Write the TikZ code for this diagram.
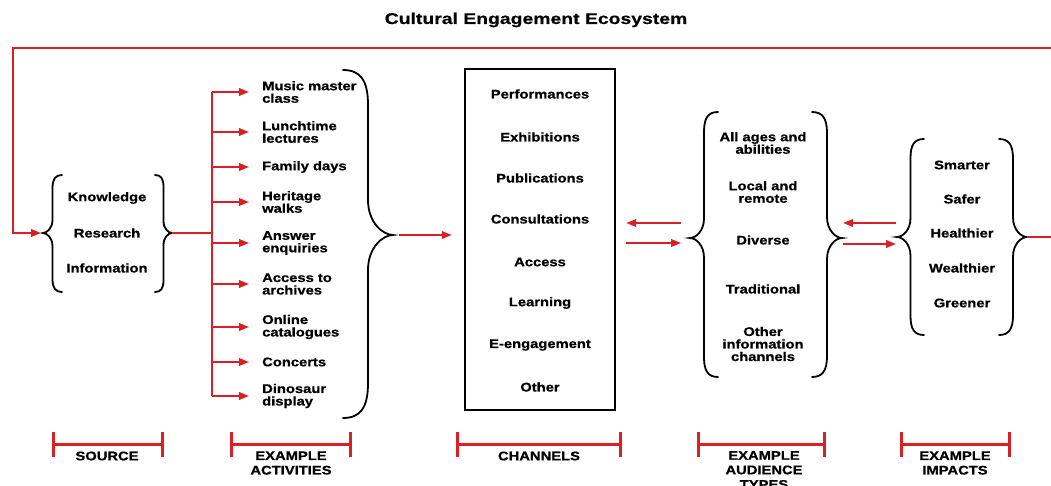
\documentclass[tikz,border=0pt]{standalone}
\usepackage{fontspec}
\setmainfont{Liberation Sans}[FakeStretch=1.18, BoldFeatures={FakeBold=0.7}]
\newfontfamily\headfont{Liberation Sans}[FakeStretch=1.25, BoldFeatures={FakeBold=0.5}]
\usetikzlibrary{arrows.meta}
\definecolor{flowred}{RGB}{218,32,38}

% curly brace: #1 name of tip, #2 tip x, #3 top y, #4 tip y, #5 bottom y,
% #6 +1 for an opening brace, -1 for a closing one, #7 half width
\newcommand{\curly}[7]{%
  \pgfmathsetmacro{\bracew}{(#6)*(#7)}%
  \pgfmathsetmacro{\braceb}{1.4*(#7)}%
  \draw[bracepen] ({#2+2*(\bracew)},#3)
    .. controls ({#2+1.3*(\bracew)},#3) and ({#2+(\bracew)},{#3+0.3*(\braceb)}) .. ({#2+(\bracew)},{#3+(\braceb)})
    -- ({#2+(\bracew)},{#4-(\braceb)})
    .. controls ({#2+(\bracew)},{#4-0.35*(\braceb)}) and ({#2+0.4*(\bracew)},#4) .. (#2,#4)
    .. controls ({#2+0.4*(\bracew)},#4) and ({#2+(\bracew)},{#4+0.35*(\braceb)}) .. ({#2+(\bracew)},{#4+(\braceb)})
    -- ({#2+(\bracew)},{#5-(\braceb)})
    .. controls ({#2+(\bracew)},{#5-0.3*(\braceb)}) and ({#2+1.3*(\bracew)},#5) .. ({#2+2*(\bracew)},#5);
  \coordinate (#1) at (#2,#4);}

\begin{document}
\begin{tikzpicture}[x=1pt,y=-1pt,
  txt/.style={font=\bfseries\fontsize{12.5}{12.5}\selectfont, align=center, inner sep=0pt},
  acttxt/.style={txt, align=left, anchor=west},
  redline/.style={draw=flowred, line width=2pt, line join=miter},
  redarrow/.style={redline, -{Triangle[length=10pt,width=7.5pt]}},
  bracepen/.style={draw=black, line width=1.8pt, line cap=round},
  scalebar/.style={draw=flowred, line width=3pt, {Bar[width=25pt]}-{Bar[width=25pt]}},
  caption/.style={font=\bfseries\fontsize{12.5}{14.5}\selectfont, align=center, inner sep=0pt}]

\fill[white] (0,0) rectangle (1051,486);
\useasboundingbox (0,0) rectangle (1051,486);

% title
\node[font=\headfont\bfseries\fontsize{15.5}{15.5}\selectfont, inner sep=0pt] (title) at (536,20) {Cultural Engagement Ecosystem};

% source
\curly{srcL}{43}{175}{233}{292}{1}{9.5}
\curly{srcR}{172}{175}{233}{292}{-1}{8.5}
\node[txt] (s1) at (107,198) {Knowledge};
\node[txt] (s2) at (107,233) {Research};
\node[txt] (s3) at (107,268) {Information};

% example activities
\coordinate (trunk) at (212,233);
\node[acttxt] (a1) at (262,92)  {Music master\\class};
\node[acttxt] (a2) at (262,132) {Lunchtime\\lectures};
\node[acttxt] (a3) at (262,167) {Family days};
\node[acttxt] (a4) at (262,202) {Heritage\\walks};
\node[acttxt] (a5) at (262,243) {Answer\\enquiries};
\node[acttxt] (a6) at (262,284) {Access to\\archives};
\node[acttxt] (a7) at (262,327) {Online\\catalogues};
\node[acttxt] (a8) at (262,362) {Concerts};
\node[acttxt] (a9) at (262,396) {Dinosaur\\display};
\curly{actR}{393}{70}{235}{418}{-1}{25}

\draw[redline] (srcR) -- (srcR -| trunk);
\draw[redline] (a1.west -| trunk) -- (a9.west -| trunk);
\foreach \i in {1,...,9}
  \draw[redarrow, shorten >=13pt] (a\i.west -| trunk) -- (a\i.west);

% channels
\node[draw=black, line width=2.4pt, minimum width=150pt, minimum height=341pt, inner sep=0pt] (chan) at (540,239.5) {};
\node[txt] (c1) at (540,94)  {Performances};
\node[txt] (c2) at (540,137) {Exhibitions};
\node[txt] (c3) at (540,178) {Publications};
\node[txt] (c4) at (540,219) {Consultations};
\node[txt] (c5) at (540,262) {Access};
\node[txt] (c6) at (540,303) {Learning};
\node[txt] (c7) at (540,345) {E-engagement};
\node[txt] (c8) at (540,387) {Other};
\draw[redarrow, shorten <=6pt, shorten >=12pt] (actR) -- (actR -| chan.west);

% example audience types
\curly{audL}{690}{112}{238}{377}{1}{14}
\curly{audR}{842}{112}{238}{377}{-1}{15}
\node[txt] (u1) at (763,143) {All ages and\\abilities};
\node[txt] (u2) at (763,192) {Local and\\remote};
\node[txt] (u3) at (763,240) {Diverse};
\node[txt] (u4) at (763,289) {Traditional};
\node[txt] (u5) at (763,344) {Other\\information\\channels};
\draw[redarrow, shorten <=9pt, shorten >=10pt] ([yshift=15pt]audL) -- ([yshift=15pt]audL -| chan.east);
\draw[redarrow, shorten <=10pt, shorten >=9pt] ([yshift=-5pt]audL -| chan.east) -- ([yshift=-5pt]audL);

% example impacts
\curly{impL}{897}{139}{237}{335}{1}{13.5}
\curly{impR}{1027}{139}{237}{335}{-1}{14}
\node[txt] (i1) at (962,165) {Smarter};
\node[txt] (i2) at (962,199) {Safer};
\node[txt] (i3) at (962,233) {Healthier};
\node[txt] (i4) at (962,268) {Wealthier};
\node[txt] (i5) at (962,303) {Greener};
\draw[redarrow, shorten <=1pt, shorten >=1pt] ([yshift=14pt]impL) -- ([yshift=14pt]impL -| audR);
\draw[redarrow, shorten <=1pt, shorten >=1pt] ([yshift=-7pt]impL -| audR) -- ([yshift=-7pt]impL);

% feedback from impacts back to the source
\coordinate (loopR) at (1051,237);
\coordinate (loopTop) at (1051,48);
\coordinate (loopTL) at (13,48);
\draw[redline] (impR) -- (loopR);
\draw[redarrow, shorten >=2pt] (loopTop) -- (loopTL) |- (srcL);

% column captions
\coordinate (b1L) at (52,444);  \coordinate (b1R) at (164,444);
\coordinate (b2L) at (230,444); \coordinate (b2R) at (352,444);
\coordinate (b3L) at (456,444); \coordinate (b3R) at (622,444);
\coordinate (b4L) at (697,444); \coordinate (b4R) at (826,444);
\coordinate (b5L) at (900,444); \coordinate (b5R) at (1011,444);
\foreach \k in {1,...,5}
  \draw[scalebar] (b\k L) -- (b\k R);
\node[caption] (k1) at (107,456)   {SOURCE};
\node[caption] (k2) at (291,463)   {EXAMPLE\\ACTIVITIES};
\node[caption] (k3) at (539,456)   {CHANNELS};
\node[caption] (k4) at (764,470) {EXAMPLE\\AUDIENCE\\TYPES};
\node[caption] (k5) at (955,463)   {EXAMPLE\\IMPACTS};
\end{tikzpicture}
\end{document}
